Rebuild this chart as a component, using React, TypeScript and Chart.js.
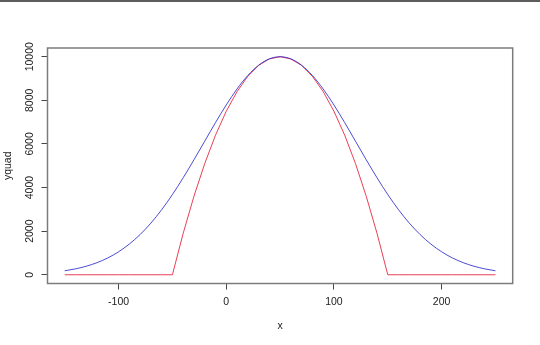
import { useEffect, useRef } from "react";
import { Chart, registerables } from "chart.js";

Chart.register(...registerables);

const xValues = [
  -150, -140, -130, -120, -110, -100, -90, -80, -70, -60, -50, -40, -30, -20, -10,
  0, 10, 20, 30, 40, 50, 60, 70, 80, 90, 100, 110, 120, 130, 140, 150,
  160, 170, 180, 190, 200, 210, 220, 230, 240, 250,
];
const redValues = [
  0, 0, 0, 0, 0, 0, 0, 0, 0, 0, 0, 1900, 3600, 5100, 6400,
  7500, 8400, 9100, 9600, 9900, 10000, 9900, 9600, 9100, 8400, 7500, 6400, 5100, 3600, 1900, 0,
  0, 0, 0, 0, 0, 0, 0, 0, 0, 0,
];
const blueValues = [
  183, 271, 392, 556, 773, 1054, 1409, 1845, 2369, 2982, 3679, 4449, 5273, 6126, 6977,
  7788, 8521, 9139, 9608, 9900, 10000, 9900, 9608, 9139, 8521, 7788, 6977, 6126, 5273, 4449, 3679,
  2982, 2369, 1845, 1409, 1054, 773, 556, 392, 271, 183,
];
const xTicks = [-100, 0, 100, 200];
const yTicks = [0, 2000, 4000, 6000, 8000, 10000];
const xTitle = "x";
const yTitle = "yquad";

export default function App() {
  const ref = useRef<HTMLCanvasElement>(null);

  useEffect(() => {
    if (!ref.current) return;
    const family = "'Liberation Sans', Arial, sans-serif";
    const font = { family, size: 10.5 };
    const textColor = "#222";

    const framePlugin = {
      id: "frame",
      beforeDraw(chart: any) {
        const ctx = chart.ctx;
        ctx.save();
        ctx.fillStyle = "#fff";
        ctx.fillRect(0, 0, chart.width, chart.height);
        ctx.fillStyle = "#5c5c5c";
        ctx.fillRect(0, 0, chart.width, 2);
        ctx.restore();
      },
      afterDraw(chart: any) {
        const { ctx, chartArea: a, scales } = chart;
        ctx.save();
        ctx.strokeStyle = "#7c7c7c";
        ctx.lineWidth = 1.5;
        ctx.strokeRect(a.left, a.top, a.right - a.left, a.bottom - a.top);
        ctx.fillStyle = textColor;
        ctx.font = `${font.size}px ${family}`;
        ctx.textAlign = "center";
        ctx.textBaseline = "middle";
        yTicks.forEach((v) => {
          const y = scales.y.getPixelForValue(v);
          ctx.save();
          ctx.translate(30, y);
          ctx.rotate(-Math.PI / 2);
          ctx.fillText(String(v), 0, 0);
          ctx.restore();
        });
        ctx.restore();
      },
    };

    const chart = new Chart(ref.current, {
      type: "line",
      data: {
        datasets: [
          {
            label: "blue",
            data: xValues.map((x, i) => ({ x, y: blueValues[i] })),
            borderColor: "rgba(45,45,205,0.85)",
            borderWidth: 1,
            pointRadius: 0,
            cubicInterpolationMode: "monotone",
            fill: false,
          },
          {
            label: "red",
            data: xValues.map((x, i) => ({ x, y: redValues[i] })),
            borderColor: "rgba(228,30,55,0.85)",
            borderWidth: 1,
            pointRadius: 0,
            tension: 0,
            fill: false,
          },
        ],
      },
      options: {
        responsive: false,
        animation: false,
        events: [],
        layout: { padding: { top: 48, right: 27.3, left: 0, bottom: 0 } },
        plugins: { legend: { display: false }, tooltip: { enabled: false } },
        scales: {
          x: {
            type: "linear",
            min: -166,
            max: 266,
            afterBuildTicks: (s: any) => {
              s.ticks = xTicks.map((v) => ({ value: v }));
            },
            afterFit: (s: any) => {
              s.height = 61.5;
            },
            ticks: {
              font,
              color: textColor,
              padding: 6,
              maxRotation: 0,
              minRotation: 0,
              autoSkip: false,
              callback: (v: any) => String(v),
            },
            grid: { drawOnChartArea: false, drawTicks: true, tickLength: 6, color: "#444", lineWidth: 1 },
            border: { display: false },
            title: { display: true, text: xTitle, font, color: textColor, padding: { top: 0, bottom: 13 } },
          },
          y: {
            type: "linear",
            min: -400,
            max: 10400,
            afterBuildTicks: (s: any) => {
              s.ticks = yTicks.map((v) => ({ value: v }));
            },
            afterFit: (s: any) => {
              s.width = 47.5;
            },
            ticks: { display: false },
            grid: { drawOnChartArea: false, drawTicks: true, tickLength: 6, color: "#444", lineWidth: 1 },
            border: { display: false },
            title: { display: true, text: yTitle, font, color: textColor, padding: { top: 2, bottom: 0 } },
          },
        },
      },
      plugins: [framePlugin],
    } as any);

    return () => chart.destroy();
  }, []);

  return (
    <canvas
      ref={ref}
      width={540}
      height={345}
      style={{ position: "absolute", left: 0, top: 0, display: "block", width: 540, height: 345 }}
    />
  );
}
